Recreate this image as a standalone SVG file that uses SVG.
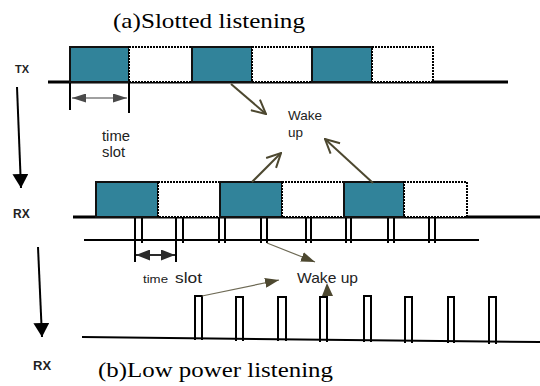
<svg xmlns="http://www.w3.org/2000/svg" width="540" height="386" viewBox="0 0 540 386">
<style>
.on{fill:#31839a;stroke:#111;stroke-width:2}
.off{fill:#fff;stroke:#000;stroke-width:2;stroke-dasharray:2 1}
.base{stroke:#000;stroke-width:3;fill:none}
.thin{stroke:#000;stroke-width:2;fill:none}
.tick{stroke:#000;stroke-width:2;fill:none}
.lbl{font-family:"Liberation Sans",Arial,sans-serif;fill:#222}
.ttl{font-family:"Liberation Serif","Times New Roman",serif;font-size:22px;fill:#000}
.io{font-family:"Liberation Sans",Arial,sans-serif;font-weight:bold;fill:#222}
.olive{stroke:#4d4830;stroke-width:2;fill:none}
.olthin{stroke:#6e6a55;stroke-width:1.2;fill:none}
</style>
<defs>
<marker id="vhead" markerUnits="userSpaceOnUse" viewBox="0 0 16 16" markerWidth="16" markerHeight="16" refX="15" refY="8" orient="auto">
<path d="M1,1 L15,8 L1,15" fill="none" stroke="#4d4830" stroke-width="2"/>
</marker>
<marker id="fhead" markerUnits="userSpaceOnUse" viewBox="0 0 14 10" markerWidth="14" markerHeight="10" refX="14" refY="5" orient="auto">
<path d="M0,0 L14,5 L0,10 Z" fill="#4d4830"/>
</marker>
<marker id="ghead" markerUnits="userSpaceOnUse" viewBox="0 0 14 9" markerWidth="14" markerHeight="9" refX="14" refY="4.5" orient="auto-start-reverse">
<path d="M0,0 L14,4.5 L0,9 Z" fill="#4a4a4a"/>
</marker>
<marker id="khead" markerUnits="userSpaceOnUse" viewBox="0 0 14 11" markerWidth="14" markerHeight="11" refX="14" refY="5.5" orient="auto-start-reverse">
<path d="M0,0 L14,5.5 L0,11 Z" fill="#2a2a2a"/>
</marker>
<marker id="bhead" markerUnits="userSpaceOnUse" viewBox="0 0 14 16" markerWidth="14" markerHeight="16" refX="14" refY="8" orient="auto">
<path d="M0,0 L14,8 L0,16 Z" fill="#000"/>
</marker>
</defs>

<text class="ttl" x="113" y="28" textLength="192" lengthAdjust="spacingAndGlyphs">(a)Slotted listening</text>
<text class="ttl" x="98" y="377" textLength="235" lengthAdjust="spacingAndGlyphs">(b)Low power listening</text>

<g id="labels">
<text class="io" x="15" y="73" font-size="11">TX</text>
<text class="io" x="13" y="218" font-size="12">RX</text>
<text class="io" x="33" y="370" font-size="13">RX</text>
<text class="lbl" x="102" y="141" font-size="14" textLength="28" lengthAdjust="spacingAndGlyphs">time</text>
<text class="lbl" x="102" y="157" font-size="14" textLength="23" lengthAdjust="spacingAndGlyphs">slot</text>
<text class="lbl" x="143" y="283" font-size="11" textLength="25" lengthAdjust="spacingAndGlyphs">time</text>
<text class="lbl" x="175" y="283" font-size="15" textLength="27" lengthAdjust="spacingAndGlyphs">slot</text>
<text class="lbl" x="288" y="120" font-size="13" textLength="34" lengthAdjust="spacingAndGlyphs">Wake</text>
<text class="lbl" x="288" y="137" font-size="13" textLength="15" lengthAdjust="spacingAndGlyphs">up</text>
<text class="lbl" x="297" y="283" font-size="15" textLength="61" lengthAdjust="spacingAndGlyphs">Wake up</text>
</g>

<g id="tx-line">
<line class="base" x1="48" y1="82" x2="508" y2="82"/>
<line class="tick" x1="70" y1="82" x2="70" y2="110"/>
<line class="tick" x1="129" y1="82" x2="129" y2="113"/>
</g>
<g id="tx-slot1"><rect class="on" x="70" y="47" width="59" height="35"/></g>
<g id="tx-gap1"><rect class="off" x="129" y="47" width="63" height="35"/></g>
<g id="tx-slot2"><rect class="on" x="192" y="47" width="60" height="35"/></g>
<g id="tx-gap2"><rect class="off" x="252" y="47" width="60" height="35"/></g>
<g id="tx-slot3"><rect class="on" x="312" y="47" width="60" height="35"/></g>
<g id="tx-gap3"><rect class="off" x="372" y="47" width="61" height="35"/></g>

<g id="rx1-line">
<line class="base" x1="73" y1="217" x2="540" y2="217"/>
<line class="thin" x1="84" y1="240" x2="479" y2="240"/>
<path class="tick" d="M135,217V262M142,217V243M176,217V262M183,217V243M219,217V243M225,217V243M261,217V243M267,217V243M306,217V243M311,217V243M346,217V243M351,217V243M388,217V243M394,217V243M429,217V243M435,217V243"/>
</g>
<g id="rx1-slot1"><rect class="on" x="96" y="182" width="62" height="35"/></g>
<g id="rx1-gap1"><rect class="off" x="158" y="182" width="62" height="35"/></g>
<g id="rx1-slot2"><rect class="on" x="220" y="182" width="62" height="35"/></g>
<g id="rx1-gap2"><rect class="off" x="282" y="182" width="62" height="35"/></g>
<g id="rx1-slot3"><rect class="on" x="344" y="182" width="60" height="35"/></g>
<g id="rx1-gap3"><rect class="off" x="404" y="182" width="63" height="35"/></g>

<g id="rx2-line">
<line class="thin" x1="82" y1="337" x2="540" y2="342"/>
<path class="tick" d="M195,340V296H202V340M236,341V297H243V341M278,341V297H286V341M320,342V297H327V342M364,342V296H371V342M405,343V297H412V343M448,343V297H454V343M489,344V297H496V344"/>
</g>

<g id="connectors">
<line x1="17" y1="87" x2="21" y2="188" stroke="#000" stroke-width="2" marker-end="url(#bhead)"/>
<line x1="38" y1="247" x2="42" y2="337" stroke="#000" stroke-width="2" marker-end="url(#bhead)"/>
<line x1="72" y1="98" x2="127" y2="98" stroke="#808080" stroke-width="1.5" marker-start="url(#ghead)" marker-end="url(#ghead)"/>
<line x1="136" y1="255" x2="175" y2="255" stroke="#2a2a2a" stroke-width="2" marker-start="url(#khead)" marker-end="url(#khead)"/>
<line class="olive" x1="231" y1="84" x2="266" y2="114" marker-end="url(#vhead)"/>
<line class="olive" x1="252" y1="182" x2="281" y2="153" marker-end="url(#vhead)"/>
<line class="olive" x1="373" y1="183" x2="325" y2="139" marker-end="url(#vhead)"/>
<line class="olthin" x1="267" y1="243" x2="315" y2="262" marker-end="url(#fhead)"/>
<line class="olthin" x1="202" y1="296" x2="279" y2="280" marker-end="url(#fhead)"/>
<path d="M327,283 L322,296 L333,296 Z" fill="#4d4830"/>
</g>
</svg>
